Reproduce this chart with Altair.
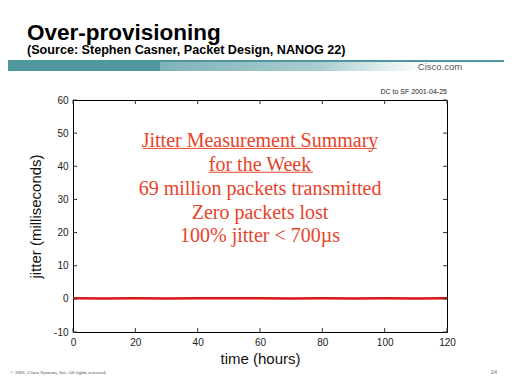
import altair as alt
import pandas as pd

# ---- data ----
hours = [0, 10, 20, 30, 40, 50, 60, 70, 80, 90, 100, 110, 120]
jitter_ms = [0.15, 0.12, 0.15, 0.14, 0.15, 0.16, 0.15, 0.13, 0.15, 0.14, 0.15, 0.14, 0.15]

x_ticks = [0, 20, 40, 60, 80, 100, 120]
y_ticks = [-10, 0, 10, 20, 30, 40, 50, 60]

summary_lines = [
    "Jitter Measurement Summary",
    "for the Week",
    "69 million packets transmitted",
    "Zero packets lost",
    "100% jitter < 700\u00b5s",
]
summary_x = [60, 60, 60, 60, 60]
summary_y = [45.8, 38.6, 31.4, 24.2, 17.1]

underline_x1 = [22.5, 43.5]
underline_x2 = [97.5, 77.0]
underline_y = [45.4, 38.2]

W, H = 374, 232
RED = "#dd1515"
TXT_RED = "#e8432a"
TEAL = "#4f979d"

xs = alt.Scale(domain=[0, 120], nice=False, zero=False)
ys = alt.Scale(domain=[-10, 60], nice=False, zero=False)

axis_common = dict(grid=False, ticks=False, labelFontSize=10, labelFont="Liberation Sans",
                   labelColor="#222", labelOverlap=False, labelFlush=False,
                   labelExpr="'' + datum.value",
                   titleFont="Liberation Sans", titleFontSize=15, titleFontWeight="normal",
                   titleColor="#111", domainColor="black")
XA = alt.Axis(values=x_ticks, title="time (hours)", labelPadding=5, titlePadding=4, **axis_common)
YA = alt.Axis(values=y_ticks, title="jitter (milliseconds)", labelPadding=5, titlePadding=10,
              **axis_common)

line_df = pd.DataFrame({"hours": hours, "jitter": jitter_ms})
line = alt.Chart(line_df).mark_line(color=RED, strokeWidth=2.5).encode(
    x=alt.X("hours:Q", scale=xs, axis=XA),
    y=alt.Y("jitter:Q", scale=ys, axis=YA),
)

sum_df = pd.DataFrame({"x": summary_x, "y": summary_y, "t": summary_lines})
summary = alt.Chart(sum_df).mark_text(
    font="Liberation Serif", fontSize=20, color=TXT_RED, baseline="alphabetic", align="center"
).encode(x=alt.X("x:Q", scale=xs, axis=XA), y=alt.Y("y:Q", scale=ys, axis=YA), text="t:N")

ul_df = pd.DataFrame({"x1": underline_x1, "x2": underline_x2, "y": underline_y})
underlines = alt.Chart(ul_df).mark_rule(color=TXT_RED, strokeWidth=1).encode(
    x=alt.X("x1:Q", scale=xs, axis=XA), x2="x2:Q", y=alt.Y("y:Q", scale=ys, axis=YA)
)

xt_df = pd.DataFrame({"v": x_ticks})
yt_df = pd.DataFrame({"v": y_ticks})
tick_col = "#333"
bt = alt.Chart(xt_df).mark_rule(color=tick_col).encode(
    x=alt.X("v:Q", scale=xs, axis=XA), y=alt.value(H), y2=alt.value(H - 4))
tt = alt.Chart(xt_df).mark_rule(color=tick_col).encode(
    x=alt.X("v:Q", scale=xs, axis=XA), y=alt.value(0), y2=alt.value(4))
lt = alt.Chart(yt_df).mark_rule(color=tick_col).encode(
    y=alt.Y("v:Q", scale=ys, axis=YA), x=alt.value(0), x2=alt.value(4))
rt = alt.Chart(yt_df).mark_rule(color=tick_col).encode(
    y=alt.Y("v:Q", scale=ys, axis=YA), x=alt.value(W), x2=alt.value(W - 4))

def label(txt, x, y, **kw):
    return alt.Chart(pd.DataFrame({"t": [txt]})).mark_text(**kw).encode(
        text="t:N", x=alt.value(x), y=alt.value(y))

title = label("Over-provisioning", -46, -60, font="Liberation Sans", fontSize=22.5,
              fontWeight="bold", align="left", baseline="alphabetic", color="black")
subtitle = label("(Source: Stephen Casner, Packet Design, NANOG 22)", -46, -46,
                 font="Liberation Sans", fontSize=12.6, fontWeight="bold", align="left",
                 baseline="alphabetic", color="black")
cisco = label("Cisco.com", 367, -33, font="Liberation Sans", fontSize=9.5, align="center",
              baseline="middle", color="#555")
dcsf = label("DC to SF 2001-04-25", 374, -6, font="Liberation Sans", fontSize=7,
             align="right", baseline="alphabetic", color="#222")
footer = label("\u00a9 2001, Cisco Systems, Inc. All rights reserved.", -63, 272,
               font="Liberation Serif", fontSize=5, align="left", baseline="middle", color="#444")
page = label("24", 424, 272, font="Liberation Serif", fontSize=6.5, align="right",
             baseline="middle", color="#666")

band_df = pd.DataFrame({"a": [0]})
thin = alt.Chart(band_df).mark_rect(color=TEAL).encode(
    x=alt.value(-65), x2=alt.value(431), y=alt.value(-40), y2=alt.value(-38))
thick = alt.Chart(band_df).mark_rect(color=TEAL).encode(
    x=alt.value(-65), x2=alt.value(87), y=alt.value(-40), y2=alt.value(-29))
grad = alt.Chart(band_df).mark_rect(
    fill=alt.Gradient(gradient="linear",
                      stops=[alt.GradientStop(color="#7fb3b8", offset=0),
                             alt.GradientStop(color="#a9cdd0", offset=0.6),
                             alt.GradientStop(color="#ffffff", offset=1)],
                      x1=0, x2=1, y1=0, y2=0)
).encode(x=alt.value(87), x2=alt.value(350), y=alt.value(-38), y2=alt.value(-29))

chart = alt.layer(
    thin, thick, grad, title, subtitle, cisco, dcsf, footer, page,
    line, bt, tt, lt, rt, summary, underlines
).properties(
    width=W, height=H,
    autosize=alt.AutoSizeParams(type="none"),
    padding={"left": 65, "top": 92, "right": 57, "bottom": 44},
).configure_view(stroke="black", strokeWidth=1)

chart.save("out.html", embed_options={"renderer": "svg", "actions": False})
